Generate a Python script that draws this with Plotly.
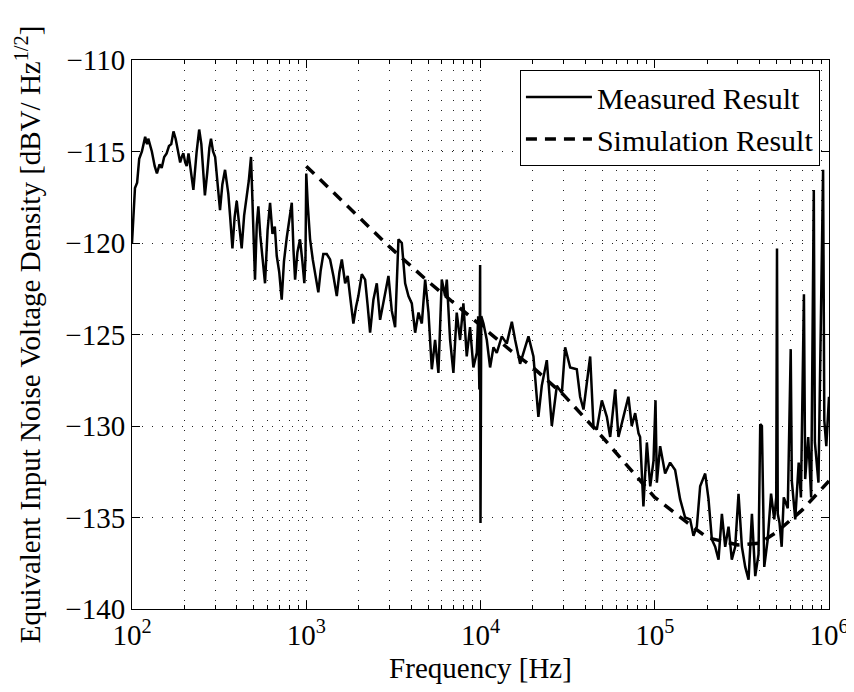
import plotly.graph_objects as go

# Measured equivalent input noise (frequency in Hz, level in dBV/Hz^1/2)
meas_freq = [
    100, 104, 107, 110, 114, 119, 122, 124, 130, 135, 139, 144, 148, 153, 158, 163, 168, 173, 178, 184,
    189, 193, 197, 202, 206, 211, 218, 225, 235, 243, 250, 256, 262, 270, 278, 284, 292, 300, 310, 320,
    330, 342, 350, 357, 366, 377, 388, 399, 412, 426, 440, 455, 468, 482, 495, 508, 520, 531, 545, 560,
    580, 600, 620, 640, 660, 677, 700, 723, 745, 773, 800, 826, 845, 863, 890, 921, 950, 975, 990, 1000,
    1020, 1052, 1090, 1124, 1173, 1210, 1253, 1311, 1370, 1432, 1497, 1550, 1600, 1672, 1730, 1784, 1864, 1930, 1991, 2083,
    2177, 2250, 2325, 2429, 2540, 2653, 2740, 2834, 2963, 3096, 3236, 3382, 3535, 3694, 3860, 4034, 4216, 4407, 4605, 4812,
    5029, 5256, 5488, 5735, 5994, 6264, 6407, 6692, 6990, 7304, 7634, 7977, 8336, 8710, 9103, 9516, 9700, 9850, 9950, 10000,
    10100, 10400, 10870, 11350, 11870, 12400, 13250, 14150, 15130, 15810, 16880, 17640, 18850, 20130, 21490, 22470, 24020, 25660, 27420, 29300,
    30600, 32700, 35700, 37300, 39000, 42600, 44500, 46500, 49700, 53100, 55500, 59300, 61900, 66100, 70600, 73800, 77200, 80700, 82400, 86100,
    90100, 94200, 98400, 101000, 102800, 107400, 114700, 122500, 130900, 139800, 149400, 159600, 166800, 174400, 182200, 194700, 203500, 212700, 222200, 232300,
    242800, 253700, 265100, 276800, 289500, 302500, 316300, 330500, 345400, 361100, 377300, 394000, 403000, 412000, 425000, 445000, 465000, 485000, 498000, 503000,
    508000, 520000, 535000, 550000, 580000, 603000, 612000, 640000, 670000, 690000, 718000, 730000, 760000, 790000, 818000, 830000, 870000, 925000, 940000, 965000,
    1000000,
]
meas_db = [
    -120.0, -117.0, -116.7, -115.4, -115.0, -114.2, -114.6, -114.3, -115.0, -115.8, -116.2, -115.7, -115.9, -115.3, -115.1, -114.7, -114.6, -113.9, -114.3, -115.0,
    -115.6, -115.3, -115.1, -115.6, -115.8, -115.1, -116.3, -117.1, -115.0, -113.8, -114.6, -116.0, -117.4, -116.2, -114.8, -114.3, -115.0, -115.3, -116.9, -118.2,
    -116.8, -116.0, -116.7, -117.3, -118.6, -120.3, -118.6, -117.7, -119.0, -120.3, -118.5, -117.5, -116.6, -115.3, -118.4, -122.0, -119.0, -118.0, -119.6, -120.8,
    -122.2, -119.3, -117.8, -119.5, -119.1, -120.7, -121.6, -123.1, -121.0, -119.7, -118.6, -117.8, -120.4, -122.0, -120.5, -119.8, -121.0, -122.2, -120.8, -116.2,
    -117.9, -119.8, -120.9, -121.7, -122.7, -121.5, -120.6, -120.6, -120.9, -121.8, -122.9, -121.6, -120.9, -122.2, -121.8, -122.9, -124.4, -123.5, -122.9, -121.7,
    -122.0, -123.4, -124.9, -123.1, -122.2, -124.2, -123.5, -122.9, -121.8, -123.7, -124.6, -119.8, -120.0, -122.2, -122.9, -123.3, -124.9, -123.8, -124.4, -122.0,
    -123.8, -126.9, -125.3, -127.1, -122.0, -122.9, -122.0, -125.3, -127.1, -123.8, -125.3, -123.3, -126.2, -124.6, -126.8, -126.0, -124.0, -128.0, -121.2, -135.3,
    -124.0, -124.4, -125.3, -126.8, -125.7, -126.0, -125.1, -125.5, -124.3, -125.3, -126.6, -126.0, -125.1, -126.2, -129.5, -127.8, -126.4, -130.0, -127.8, -128.2,
    -125.7, -126.8, -126.9, -128.4, -129.1, -126.2, -130.0, -130.2, -128.6, -129.5, -130.6, -128.0, -130.6, -129.5, -128.4, -130.0, -129.3, -130.4, -130.6, -134.4,
    -130.9, -133.3, -131.9, -128.6, -133.1, -131.1, -132.6, -132.0, -132.4, -134.0, -135.0, -135.1, -136.0, -135.5, -133.3, -132.6, -134.0, -136.2, -136.6, -137.3,
    -134.8, -136.6, -135.5, -137.3, -136.6, -133.7, -136.6, -137.7, -138.4, -134.8, -138.2, -137.0, -129.9, -130.0, -137.7, -136.2, -133.7, -135.1, -133.9, -120.3,
    -134.8, -135.3, -136.6, -133.9, -134.5, -125.8, -133.0, -135.1, -132.0, -133.9, -122.8, -132.9, -130.6, -133.9, -117.1, -130.9, -133.1, -116.0, -129.7, -131.1,
    -128.4,
]

# Simulated noise
sim_freq = [1000, 1500, 2000, 3000, 5000, 8000, 10000, 15000, 20000, 30000, 50000, 70000,
            100000, 150000, 200000, 300000, 400000, 500000, 700000, 1000000]
sim_db = [-115.8, -117.4, -118.6, -120.2, -122.1, -123.7, -124.5, -125.9, -126.8, -128.3, -130.6, -132.2,
          -133.9, -135.2, -136.1, -136.5, -136.4, -135.8, -134.6, -133.0]

x_tick_vals = [1e2, 1e3, 1e4, 1e5, 1e6]
x_tick_text = ["10<sup>2</sup>", "10<sup>3</sup>", "10<sup>4</sup>", "10<sup>5</sup>", "10<sup>6</sup>"]
y_tick_vals = [-140, -135, -130, -125, -120, -115, -110]
y_tick_text = ["\u2212140", "\u2212135", "\u2212130", "\u2212125", "\u2212120", "\u2212115", "\u2212110"]

minor_vals = [m * 10 ** d for d in range(2, 6) for m in range(2, 10)]

FONT = "Liberation Serif, Times New Roman, serif"
GRID = dict(gridcolor="#222222", gridwidth=1, griddash="1px,9px")

fig = go.Figure()
fig.add_trace(go.Scatter(x=meas_freq, y=meas_db, mode="lines", name="Measured Result",
                         line=dict(color="black", width=2.5)))
fig.add_trace(go.Scatter(x=sim_freq, y=sim_db, mode="lines", name="Simulation Result",
                         line=dict(color="black", width=3.5, dash="11px,8px")))

fig.update_layout(
    width=854, height=692,
    margin=dict(l=124, r=33, t=52, b=91),
    paper_bgcolor="white", plot_bgcolor="white",
    font=dict(family=FONT, size=29, color="black"),
    showlegend=True,
    legend=dict(x=0.987, y=0.982, xanchor="right", yanchor="top",
                bgcolor="white", bordercolor="black", borderwidth=1,
                font=dict(family=FONT, size=30), itemwidth=66,
                tracegroupgap=0),
)
fig.update_xaxes(
    type="log", range=[2, 6],
    tickmode="array", tickvals=x_tick_vals, ticktext=x_tick_text,
    tickfont=dict(size=29),
    ticks="inside", ticklen=8, tickcolor="black",
    showline=True, linecolor="black", linewidth=1, mirror="allticks",
    showgrid=True, **GRID,
    minor=dict(tickmode="array", tickvals=minor_vals, ticks="inside", ticklen=4,
               tickcolor="black", showgrid=True, **GRID),
    title=dict(text="Frequency [Hz]", standoff=7, font=dict(size=29)),
    zeroline=False, automargin=False,
)
fig.update_yaxes(
    range=[-140, -110],
    tickmode="array", tickvals=y_tick_vals, ticktext=y_tick_text,
    tickfont=dict(size=29),
    ticks="inside", ticklen=8, tickcolor="black",
    showline=True, linecolor="black", linewidth=1, mirror="allticks",
    showgrid=True, **GRID,
    title=dict(text="Equivalent Input Noise Voltage Density [dBV/ Hz<sup>1/2</sup>]", standoff=16,
               font=dict(size=29)),
    zeroline=False, automargin=False,
)

fig.write_html("out.html")
